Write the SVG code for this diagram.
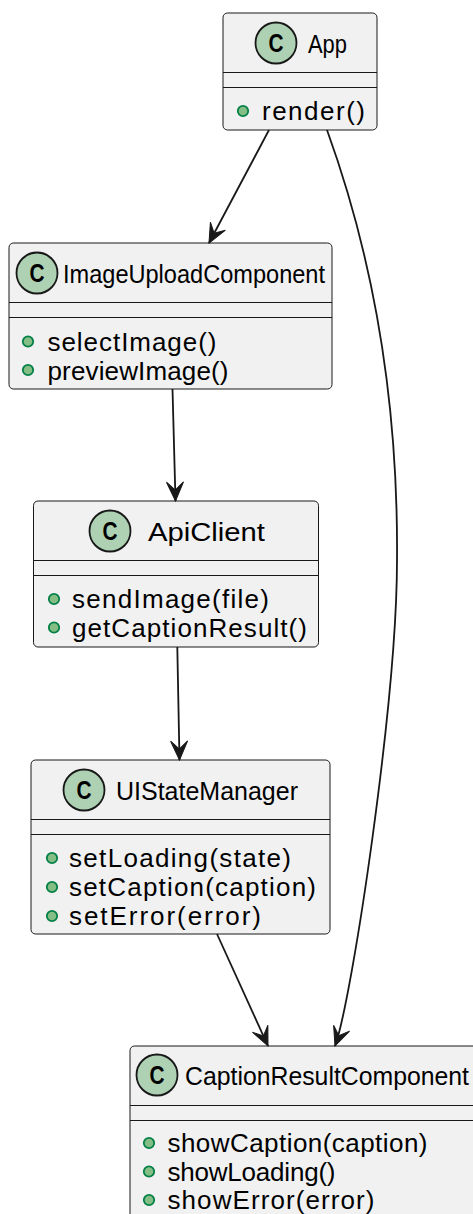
<svg xmlns="http://www.w3.org/2000/svg" width="473" height="1214" viewBox="0 0 473 1214">
  <style>
    .box { fill: #F1F1F1; stroke: #181818; stroke-width: 1; }
    .sep { stroke: #181818; stroke-width: 1; }
    .badge { fill: #ADD1B2; stroke: #181818; stroke-width: 1.8; }
    .badge-letter { font-family: "Liberation Sans", Arial, sans-serif; font-size: 26px; font-weight: bold; fill: #000000; text-anchor: middle; }
    .name { font-family: "Liberation Sans", Arial, sans-serif; font-size: 26px; fill: #000000; }
    .method { font-family: "Liberation Sans", Arial, sans-serif; font-size: 26px; fill: #000000; }
    .pub { fill: #84BE84; stroke: #038048; stroke-width: 1.8; }
    .edge { fill: none; stroke: #181818; stroke-width: 1.8; }
  </style>
  <defs>
    <marker id="arrow" markerUnits="userSpaceOnUse" viewBox="-21 -10 22 20" refX="0" refY="0" markerWidth="22" markerHeight="20" orient="auto" overflow="visible">
      <path d="M0,0 L-19,-8.5 L-11,0 L-19,8.5 Z" fill="#181818" stroke="#181818" stroke-width="1"/>
    </marker>
  </defs>

  <rect width="473" height="1214" fill="#FFFFFF"/>

  <!-- class App -->
  <g id="App">
    <rect class="box" x="223" y="13" width="154" height="117" rx="4.5" ry="4.5"/>
    <circle class="badge" cx="276" cy="43" r="20.5"/>
    <text class="badge-letter" x="276" y="52" transform="translate(276 0) scale(0.8 1) translate(-276 0)">C</text>
    <text class="name" x="308" y="53" textLength="39" lengthAdjust="spacingAndGlyphs">App</text>
    <line class="sep" x1="223" y1="72.5" x2="377" y2="72.5"/>
    <line class="sep" x1="223" y1="87.5" x2="377" y2="87.5"/>
    <circle class="pub" cx="243" cy="111" r="5.2"/>
    <text class="method" x="262" y="120" textLength="103" lengthAdjust="spacing">render()</text>
  </g>

  <!-- class ImageUploadComponent -->
  <g id="ImageUploadComponent">
    <rect class="box" x="9" y="243" width="323" height="146" rx="4.5" ry="4.5"/>
    <circle class="badge" cx="37" cy="273" r="20.5"/>
    <text class="badge-letter" x="37" y="282" transform="translate(37 0) scale(0.8 1) translate(-37 0)">C</text>
    <text class="name" x="63" y="283" textLength="262" lengthAdjust="spacingAndGlyphs">ImageUploadComponent</text>
    <line class="sep" x1="9" y1="302.5" x2="332" y2="302.5"/>
    <line class="sep" x1="9" y1="317.5" x2="332" y2="317.5"/>
    <circle class="pub" cx="28" cy="341.5" r="5.2"/>
    <text class="method" x="47.5" y="350.5" textLength="169" lengthAdjust="spacing">selectImage()</text>
    <circle class="pub" cx="28" cy="370" r="5.2"/>
    <text class="method" x="47.5" y="379.5" textLength="181" lengthAdjust="spacing">previewImage()</text>
  </g>

  <!-- class ApiClient -->
  <g id="ApiClient">
    <rect class="box" x="33.5" y="501" width="285" height="146" rx="4.5" ry="4.5"/>
    <circle class="badge" cx="110" cy="531" r="20.5"/>
    <text class="badge-letter" x="110" y="540" transform="translate(110 0) scale(0.8 1) translate(-110 0)">C</text>
    <text class="name" x="148" y="541" textLength="117" lengthAdjust="spacingAndGlyphs">ApiClient</text>
    <line class="sep" x1="33.5" y1="560.5" x2="318.5" y2="560.5"/>
    <line class="sep" x1="33.5" y1="575.5" x2="318.5" y2="575.5"/>
    <circle class="pub" cx="54" cy="599" r="5.2"/>
    <text class="method" x="72" y="608" textLength="197" lengthAdjust="spacing">sendImage(file)</text>
    <circle class="pub" cx="54" cy="627.5" r="5.2"/>
    <text class="method" x="72" y="637" textLength="235" lengthAdjust="spacing">getCaptionResult()</text>
  </g>

  <!-- class UIStateManager -->
  <g id="UIStateManager">
    <rect class="box" x="31" y="760" width="299" height="174" rx="4.5" ry="4.5"/>
    <circle class="badge" cx="84" cy="790" r="20.5"/>
    <text class="badge-letter" x="84" y="799" transform="translate(84 0) scale(0.8 1) translate(-84 0)">C</text>
    <text class="name" x="116" y="800" textLength="182" lengthAdjust="spacingAndGlyphs">UIStateManager</text>
    <line class="sep" x1="31" y1="819.5" x2="330" y2="819.5"/>
    <line class="sep" x1="31" y1="834.5" x2="330" y2="834.5"/>
    <circle class="pub" cx="52" cy="858" r="5.2"/>
    <text class="method" x="69" y="867" textLength="222" lengthAdjust="spacing">setLoading(state)</text>
    <circle class="pub" cx="52" cy="887" r="5.2"/>
    <text class="method" x="69" y="896" textLength="247" lengthAdjust="spacing">setCaption(caption)</text>
    <circle class="pub" cx="52" cy="916" r="5.2"/>
    <text class="method" x="69" y="925" textLength="192" lengthAdjust="spacing">setError(error)</text>
  </g>

  <!-- class CaptionResultComponent -->
  <g id="CaptionResultComponent">
    <rect class="box" x="130" y="1046" width="349" height="176" rx="4.5" ry="4.5"/>
    <circle class="badge" cx="157" cy="1075" r="20.5"/>
    <text class="badge-letter" x="157" y="1084" transform="translate(157 0) scale(0.8 1) translate(-157 0)">C</text>
    <text class="name" x="185" y="1085" style="font-size:25px" textLength="284" lengthAdjust="spacingAndGlyphs">CaptionResultComponent</text>
    <line class="sep" x1="130" y1="1105.5" x2="479" y2="1105.5"/>
    <line class="sep" x1="130" y1="1120.5" x2="479" y2="1120.5"/>
    <circle class="pub" cx="149" cy="1143" r="5.2"/>
    <text class="method" x="167.5" y="1152" textLength="260" lengthAdjust="spacing">showCaption(caption)</text>
    <circle class="pub" cx="149" cy="1171.5" r="5.2"/>
    <text class="method" x="167.5" y="1180.5" textLength="168" lengthAdjust="spacing">showLoading()</text>
    <circle class="pub" cx="149" cy="1200" r="5.2"/>
    <text class="method" x="167.5" y="1209" textLength="207" lengthAdjust="spacing">showError(error)</text>
  </g>

  <!-- dependencies -->
  <g id="connectors">
    <path class="edge" d="M269,130 L209,243" marker-end="url(#arrow)"/>
    <path class="edge" d="M327,130 C385,290 398,440 397,560 C397,700 352,1000 335,1046" marker-end="url(#arrow)"/>
    <path class="edge" d="M172.5,389 L175.5,501" marker-end="url(#arrow)"/>
    <path class="edge" d="M177.3,647 L179.5,760" marker-end="url(#arrow)"/>
    <path class="edge" d="M217,934 L268,1046" marker-end="url(#arrow)"/>
  </g>
</svg>
